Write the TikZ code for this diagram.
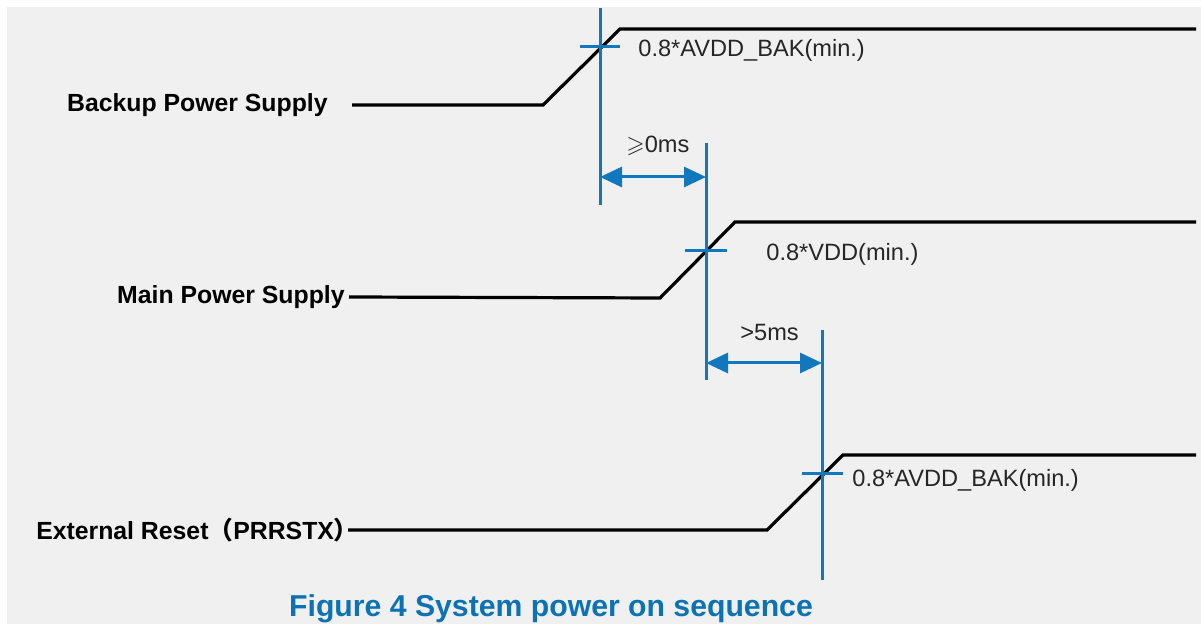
\documentclass[tikz,border=0pt]{standalone}
\usepackage{amssymb}
\usepackage{fontspec}
\setmainfont{Liberation Sans}
\newfontfamily\cjk{Noto Sans CJK SC}
\usetikzlibrary{arrows.meta,positioning}
\definecolor{seqblue}{RGB}{18,120,190}
\definecolor{capblue}{RGB}{12,114,180}
\definecolor{bggray}{RGB}{240,240,240}

\begin{document}
\begin{tikzpicture}[x=0.5pt,y=-0.5pt,
    sig/.style={line width=1.6pt, black},
    vline/.style={line width=1.5pt, seqblue},
    dimarrow/.style={line width=1.5pt, seqblue, {Triangle[length=11pt,width=10pt]}-{Triangle[length=11pt,width=10pt]}},
    lbl/.style={font=\bfseries\fontsize{12.4}{14}\selectfont, inner sep=0pt, anchor=east},
    note/.style={font=\fontsize{11.8}{13}\selectfont, inner sep=0pt, anchor=west, text=black!85}]
    % background
    \fill[white] (0,0) rectangle (1201,624);
    \fill[bggray] (7,7) rectangle (1201,624);
    \useasboundingbox (0,0) rectangle (1201,624);

    % signal names
    \node[lbl] (bak) at (328,105) {Backup Power Supply};
    \node[lbl] (main) at (345,297) {Main Power Supply};
    \node[lbl] (rst) at (348,530) {External Reset{\cjk （}PRRSTX{\cjk ）\kern-0.45em}};

    % waveforms
    \coordinate (b0) at (352,105);  \coordinate (b1) at (543,105);
    \coordinate (b2) at (620,29);   \coordinate (b3) at (1196,29);
    \coordinate (m1) at (660,298);  \coordinate (m2) at (735,222);
    \coordinate (m3) at (1196,222);
    \coordinate (r1) at (767,530);  \coordinate (r2) at (843,455);
    \coordinate (r3) at (1196,455);
    \draw[sig] (b0) -- (b1) -- (b2) -- (b3);
    \draw[sig] ([xshift=2pt]main.east) -- (m1) -- (m2) -- (m3);
    \draw[sig] (rst.east) -- (r1) -- (r2) -- (r3);

    % threshold markers
    \coordinate (t1a) at (600,8);   \coordinate (t1b) at (600,205);
    \coordinate (t2a) at (706,143); \coordinate (t2b) at (706,380);
    \coordinate (t3a) at (822,330); \coordinate (t3b) at (822,580);
    \draw[vline] (t1a) -- (t1b);
    \draw[vline] (t2a) -- (t2b);
    \draw[vline] (t3a) -- (t3b);
    \draw[vline] (580,47) -- (620,47);
    \draw[vline] (685,251) -- (727,251);
    \draw[vline] (802,474) -- (843,474);

    \node[note] (lv1) at (638,50) {0.8*AVDD\_BAK(min.)};
    \node[note] (lv2) at (766,254) {0.8*VDD(min.)};
    \node[note] (lv3) at (852,480) {0.8*AVDD\_BAK(min.)};

    % delays
    \draw[dimarrow] (t1b |- 0,177) -- (t2a |- 0,177);
    \draw[dimarrow] (t2b |- 0,363) -- (t3a |- 0,363);
    \node[note] (d1) at (626,146) {$\geqslant$0ms};
    \node[note] (d2) at (740,333) {>5ms};

    % caption
    \node[font=\bfseries\fontsize{15.1}{17}\selectfont, text=capblue, inner sep=0pt, anchor=base] (cap) at (551,617) {Figure 4 System power on sequence};
\end{tikzpicture}
\end{document}
